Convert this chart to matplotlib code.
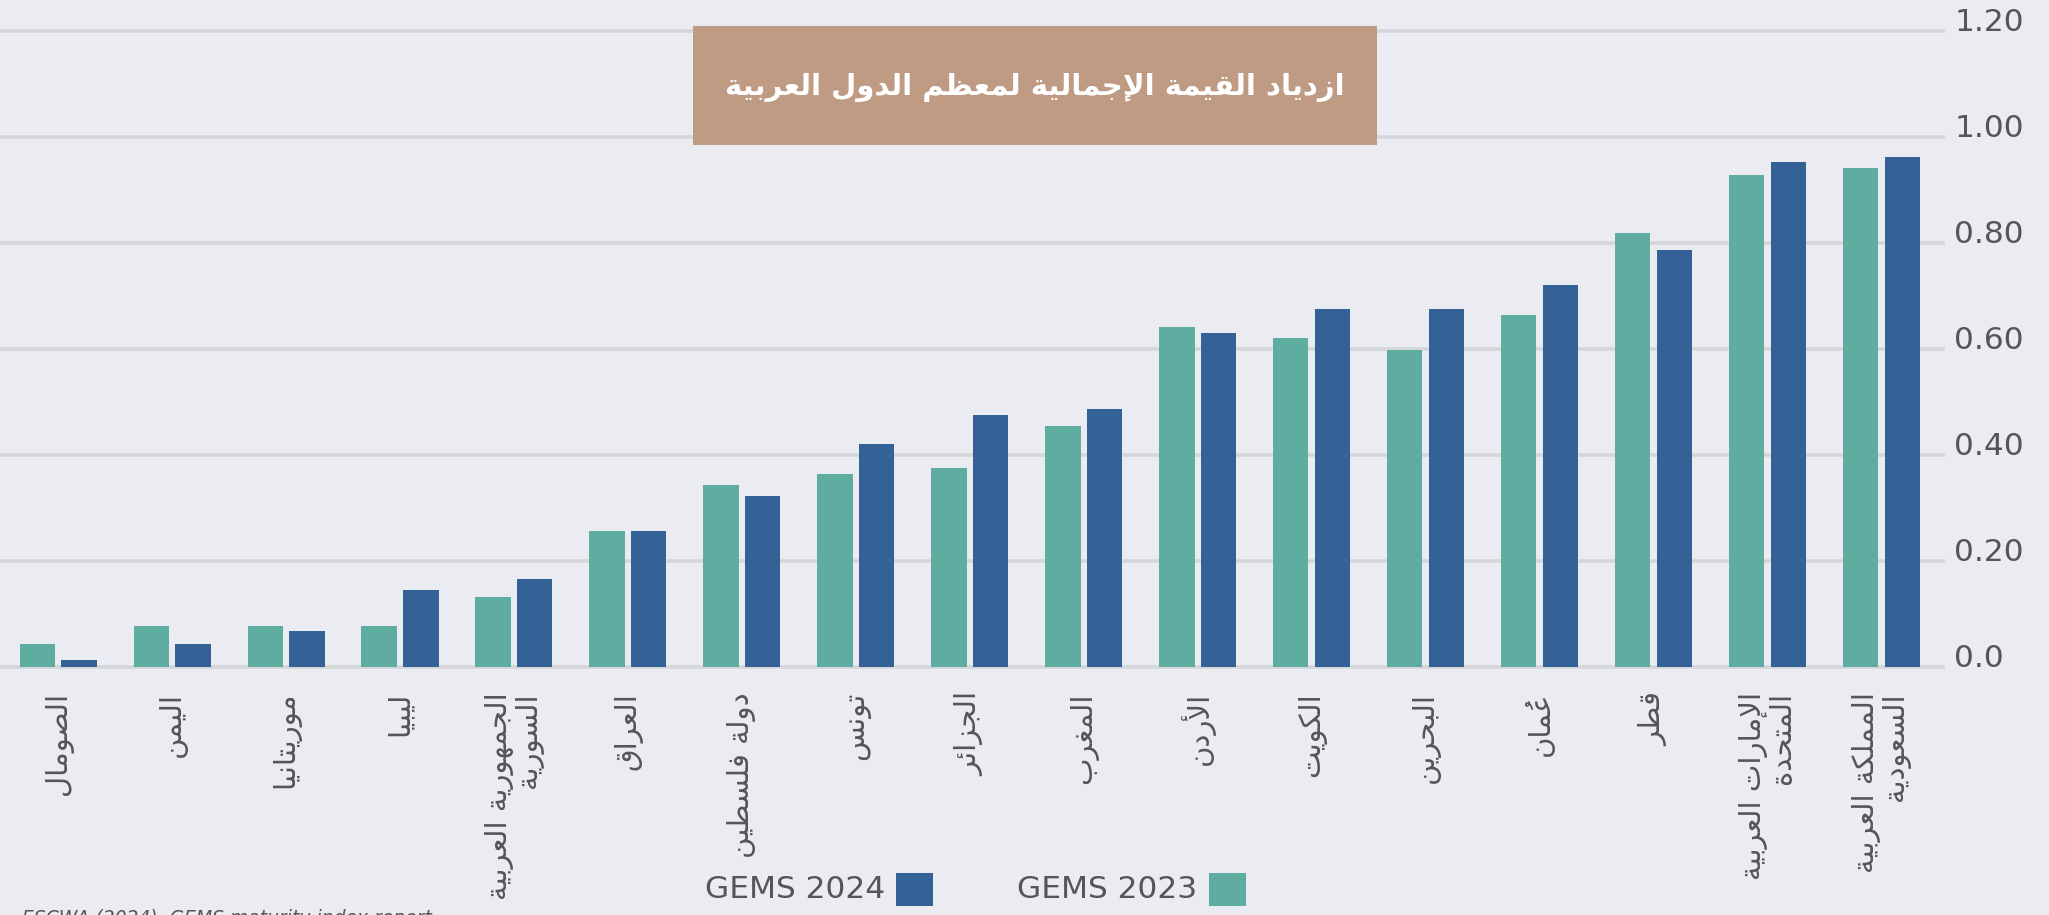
import matplotlib
matplotlib.use('Agg')
import matplotlib.pyplot as plt
from matplotlib.patches import Rectangle
import numpy as np

# ---------------- data ----------------
countries = ["الصومال", "اليمن", "موريتانيا", "ليبيا", "الجمهورية العربية\nالسورية",
             "العراق", "دولة فلسطين", "تونس", "الجزائر", "المغرب", "الأردن", "الكويت",
             "البحرين", "عُمان", "قطر", "الإمارات العربية\nالمتحدة", "المملكة العربية\nالسعودية"]
gems2023 = [0.044, 0.077, 0.077, 0.077, 0.132, 0.256, 0.343, 0.365, 0.376, 0.454,
            0.641, 0.620, 0.598, 0.665, 0.818, 0.929, 0.941]
gems2024 = [0.013, 0.044, 0.067, 0.145, 0.166, 0.256, 0.322, 0.421, 0.476, 0.487,
            0.631, 0.675, 0.675, 0.720, 0.787, 0.952, 0.963]
yticks = [0.0, 0.2, 0.4, 0.6, 0.8, 1.0, 1.2]
ytick_labels = ["0.0", "0.20", "0.40", "0.60", "0.80", "1.00", "1.20"]
title = "ازدياد القيمة الإجمالية لمعظم الدول العربية"
series_names = ["GEMS 2024", "GEMS 2023"]
source = "ESCWA (2024), GEMS maturity index report"

# ---------------- simple Arabic shaping (presentation forms) ----------------
_DUAL = {'ئ': 0xFE89, 'ب': 0xFE8F, 'ت': 0xFE95, 'ث': 0xFE99, 'ج': 0xFE9D, 'ح': 0xFEA1,
         'خ': 0xFEA5, 'س': 0xFEB1, 'ش': 0xFEB5, 'ص': 0xFEB9, 'ض': 0xFEBD, 'ط': 0xFEC1,
         'ظ': 0xFEC5, 'ع': 0xFEC9, 'غ': 0xFECD, 'ف': 0xFED1, 'ق': 0xFED5, 'ك': 0xFED9,
         'ل': 0xFEDD, 'م': 0xFEE1, 'ن': 0xFEE5, 'ه': 0xFEE9, 'ي': 0xFEF1}
_RIGHT = {'آ': 0xFE81, 'أ': 0xFE83, 'ؤ': 0xFE85, 'إ': 0xFE87, 'ا': 0xFE8D, 'ة': 0xFE93,
          'د': 0xFEA9, 'ذ': 0xFEAB, 'ر': 0xFEAD, 'ز': 0xFEAF, 'و': 0xFEED, 'ى': 0xFEEF}
_LAMALEF = {'آ': 0xFEF5, 'أ': 0xFEF7, 'إ': 0xFEF9, 'ا': 0xFEFB}


def _is_mark(c):
    return 0x064B <= ord(c) <= 0x065F or c == '\u0670'


def _shape_word(word):
    clusters = []
    for ch in word:
        if _is_mark(ch) and clusters:
            clusters[-1][1] += ch
        else:
            clusters.append([ch, ''])
    merged = []
    i = 0
    while i < len(clusters):
        b, m = clusters[i]
        if b == 'ل' and i + 1 < len(clusters) and clusters[i + 1][0] in _LAMALEF:
            merged.append(['LA' + clusters[i + 1][0], m + clusters[i + 1][1]])
            i += 2
        else:
            merged.append([b, m])
            i += 1

    def jl(b):
        return b in _DUAL

    def jr(b):
        return b in _DUAL or b in _RIGHT or b.startswith('LA')

    out = []
    for i, (b, m) in enumerate(merged):
        prev = merged[i - 1][0] if i > 0 else None
        nxt = merged[i + 1][0] if i + 1 < len(merged) else None
        jp = prev is not None and jl(prev) and jr(b)
        jn = nxt is not None and jl(b) and jr(nxt)
        if b.startswith('LA'):
            g = chr(_LAMALEF[b[2]] + (1 if jp else 0))
        elif b in _DUAL:
            g = chr(_DUAL[b] + (3 if (jp and jn) else 2 if jn else 1 if jp else 0))
        elif b in _RIGHT:
            g = chr(_RIGHT[b] + (1 if jp else 0))
        else:
            g = b
        # zero-advance mark placed before its base so it overlays the base glyph
        out.append(m + g)
    return ''.join(reversed(out))


def ar(text):
    return '\n'.join(' '.join(_shape_word(w) for w in reversed(line.split(' ')))
                     for line in text.split('\n'))


# ---------------- styling ----------------
BG = '#eaecf2'
GRID = '#d5d6da'
TEAL = '#5faca1'
BLUE = '#346296'
BOX = '#bf9b84'
TXT = '#555555'

W, H = 2049, 915
fig = plt.figure(figsize=(W / 100, H / 100), dpi=100)
fig.patch.set_facecolor(BG)

ax = fig.add_axes([0, (H - 667) / H, 1943 / W, (667 - 31) / H])
ax.set_facecolor(BG)

x = np.arange(len(countries))
bw = 0.31
off = 0.183
ax.bar(x - off, gems2023, bw, color=TEAL, zorder=3)
ax.bar(x + off, gems2024, bw, color=BLUE, zorder=3)

ax.set_xlim(-0.51, len(countries) - 1 + 0.54)
ax.set_ylim(0, 1.2)
for s in ax.spines.values():
    s.set_visible(False)

ax.set_yticks(yticks)
ax.set_yticklabels(ytick_labels)
ax.yaxis.tick_right()
ax.tick_params(axis='y', length=0, pad=8, labelsize=22.5, labelcolor=TXT)
for lab in ax.get_yticklabels():
    lab.set_va('baseline')
ax.yaxis.grid(True, color=GRID, linewidth=2.6, zorder=0)
for gl in ax.get_ygridlines():
    gl.set_clip_on(False)
ax.set_axisbelow(True)

ax.set_xticks(x)
ax.set_xticklabels([ar(c) for c in countries], rotation=90, fontsize=21,
                   color=TXT, family='DejaVu Sans', multialignment='right',
                   linespacing=1.0)
ax.tick_params(axis='x', length=0, pad=18)

# title box
bx0, bx1, by0, by1 = 693, 1377, 26, 145
fig.patches.append(Rectangle((bx0 / W, (H - by1) / H), (bx1 - bx0) / W, (by1 - by0) / H,
                             transform=fig.transFigure, facecolor=BOX, edgecolor='none',
                             zorder=5))
fig.text((bx0 + bx1) / 2 / W, (H - 87) / H, ar(title), ha='center', va='center',
         color='white', fontsize=21, fontweight='bold', family='DejaVu Sans', zorder=6)

# legend
leg = [(series_names[0], BLUE, 885, 896), (series_names[1], TEAL, 1197, 1209)]
for name, col, tx, sx in leg:
    fig.text(tx / W, (H - 889) / H, name, ha='right', va='center', color=TXT, fontsize=22.5)
    fig.patches.append(Rectangle((sx / W, (H - 906) / H), 37 / W, 33 / H,
                                 transform=fig.transFigure, facecolor=col,
                                 edgecolor='none', zorder=5))

# source (cut off at bottom edge, as in the reference)
fig.text(22 / W, (H - 909) / H, source, ha='left', va='top', color=TXT,
         fontsize=13.5, style='italic')

fig.savefig('out.png', dpi=100, facecolor=BG)
